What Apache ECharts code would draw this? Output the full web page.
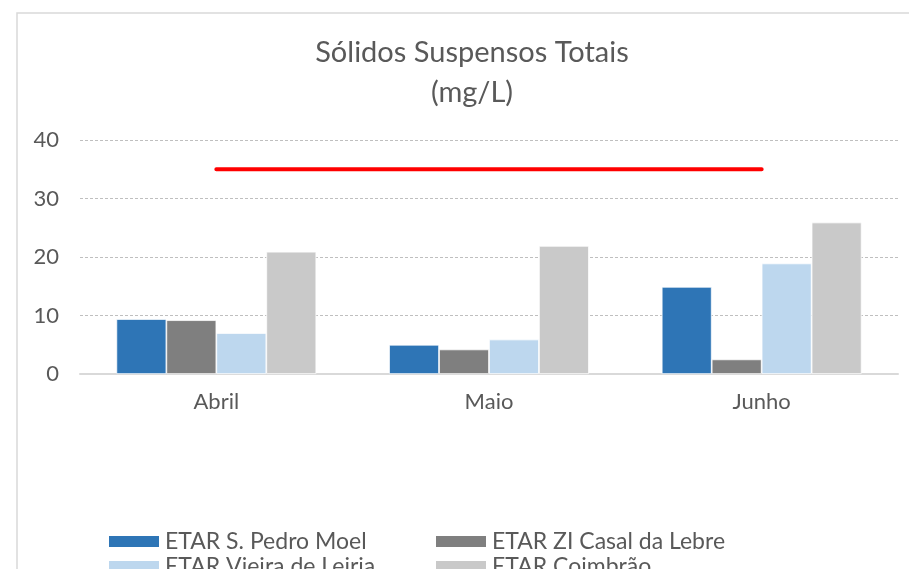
<!DOCTYPE html>
<html><head><meta charset="utf-8">
<script src="https://cdn.jsdelivr.net/npm/echarts@6/dist/echarts.min.js"></script>
<style>html,body{margin:0;padding:0;background:#fff;}#c{width:909px;height:569px;}</style>
</head><body><div id="c"></div>
<script>
const categories = ['Abril', 'Maio', 'Junho'];
const seriesNames = ['ETAR S. Pedro Moel', 'ETAR ZI Casal da Lebre', 'ETAR Vieira de Leiria', 'ETAR Coimbrão'];
const sPedroMoel = [9.4, 5.0, 14.9];
const ziCasalLebre = [9.2, 4.2, 2.5];
const vieiraLeiria = [7.0, 5.9, 18.9];
const coimbrao = [20.9, 21.9, 25.9];
const limitValues = [35, 35, 35];
const yTicks = [0, 10, 20, 30, 40];

const colors = ['#2E75B6', '#7F7F7F', '#BDD7EE', '#C9C9C9'];
const values = [sPedroMoel, ziCasalLebre, vieiraLeiria, coimbrao];
const FONT = 'Lato, "Open Sans", sans-serif';
const TXT = '#595959';

const chart = echarts.init(document.getElementById('c'), null, {renderer: 'canvas'});
const barSeries = seriesNames.map((n, i) => ({
  name: n, type: 'bar', data: values[i],
  barGap: '0%', barCategoryGap: '26.7%',
  itemStyle: {color: colors[i], borderColor: '#ffffff', borderWidth: 0.75},
  emphasis: {disabled: true}
}));
const legendPos = [[107, 530], [434, 530], [107, 555], [434, 555]];
function makeLegend(i) {
  return {
    left: legendPos[i][0], top: legendPos[i][1], orient: 'horizontal',
    data: [seriesNames[i]], itemWidth: 52, itemHeight: 13,
    icon: 'rect', padding: 0,
    textStyle: {fontFamily: FONT, fontSize: 23, color: TXT, lineHeight: 13}
  };
}
chart.setOption({
  animation: false,
  title: {
    text: 'Sólidos Suspensos Totais\n(mg/L)',
    left: 472, top: 33, padding: 0, textAlign: 'center',
    textStyle: {fontFamily: FONT, fontSize: 29, fontWeight: 'normal', color: TXT, lineHeight: 40}
  },
  graphic: [{
    type: 'rect', shape: {x: 17, y: 13, width: 1000, height: 1000},
    style: {fill: 'none', stroke: '#D9D9D9', lineWidth: 1.5}, silent: true, z: -10
  }],
  legend: [0, 1, 2, 3].map(makeLegend),
  grid: {left: 80, right: 11, top: 140, bottom: 195, containLabel: false},
  xAxis: {
    type: 'category', data: categories,
    axisLine: {lineStyle: {color: '#D9D9D9', width: 2}},
    axisTick: {show: false},
    axisLabel: {fontFamily: FONT, fontSize: 22, color: TXT, margin: 17}
  },
  yAxis: {
    type: 'value', min: yTicks[0], max: yTicks[yTicks.length - 1], interval: 10,
    axisLine: {show: false}, axisTick: {show: false},
    axisLabel: {fontFamily: FONT, fontSize: 22, color: TXT, margin: 21},
    splitLine: {lineStyle: {color: '#BFBFBF', type: [3, 2], width: 1}}
  },
  series: barSeries.concat([{
    name: 'Limite', type: 'line', data: limitValues,
    symbol: 'none', z: 5,
    lineStyle: {color: '#FF0000', width: 4, cap: 'round'},
    emphasis: {disabled: true}
  }])
});
</script></body></html>
